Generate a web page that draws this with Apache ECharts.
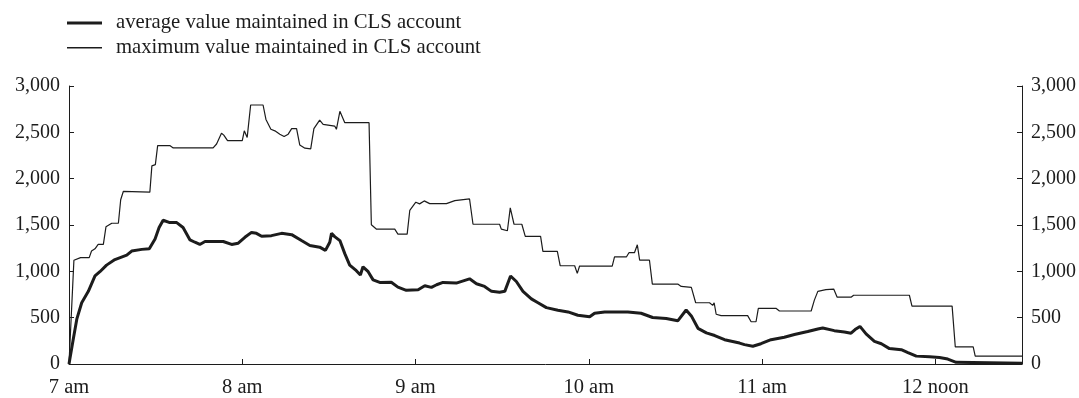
<!DOCTYPE html>
<html>
<head>
<meta charset="utf-8">
<script src="https://cdn.jsdelivr.net/npm/echarts@6/dist/echarts.min.js"></script>
<style>
  html, body { margin: 0; padding: 0; background: #fff; }
  #chart { width: 1079px; height: 398px; }
</style>
</head>
<body>
<div id="chart"></div>
<script>
// Minutes after 7:00 am, value (millions)
var averageValue = [
  [0, 0], [1.5, 272], [2.7, 484], [4.4, 661], [6.7, 784], [9.0, 950], [10.7, 996],
  [13.0, 1067], [15.9, 1127], [20.0, 1174], [21.7, 1219], [25.2, 1237], [27.8, 1243],
  [29.8, 1350], [31.2, 1473], [32.6, 1551], [34.9, 1526], [37.3, 1526], [39.5, 1473],
  [41.9, 1339], [43.6, 1314], [45.3, 1290], [47.1, 1322], [53.4, 1322], [56.3, 1290],
  [58.6, 1304], [60.9, 1367], [63.2, 1420], [64.9, 1410], [66.7, 1378], [70.1, 1385],
  [73.6, 1410], [77.1, 1396], [80.5, 1332], [83.4, 1279], [86.8, 1261], [88.8, 1226],
  [90.3, 1314], [90.9, 1410], [92.0, 1375], [93.8, 1332], [95.5, 1191], [97.2, 1067],
  [99.5, 1007], [100.9, 961], [101.8, 1049], [103.6, 996], [105.3, 908], [107.6, 880],
  [111.6, 883], [113.9, 830], [116.8, 795], [120.9, 802], [123.2, 845], [125.5, 827],
  [127.3, 855], [129.5, 880], [134.1, 873], [138.7, 919], [141.1, 866], [143.9, 837],
  [146.3, 784], [149.1, 774], [150.9, 784], [152.9, 950], [154.9, 890], [157.2, 784],
  [160.1, 703], [162.4, 661], [165.3, 608], [169.3, 580], [172.8, 562], [176.2, 526],
  [180.3, 509], [182.0, 548], [185.5, 560], [188.3, 562], [193.5, 562], [198.1, 548],
  [202.1, 502], [206.8, 491], [210.8, 466], [213.7, 583], [215.5, 519], [217.8, 385],
  [220.7, 336], [223.6, 307], [227.0, 262], [232.2, 226], [233.9, 209], [236.8, 191],
  [239.6, 219], [243.1, 262], [247.7, 289], [251.2, 318], [255.8, 350], [259.3, 378],
  [261.0, 389], [265.0, 360], [268.5, 346], [270.8, 332], [272.2, 371], [273.9, 406],
  [276.0, 325], [278.9, 244], [281.3, 219], [284.1, 166], [288.2, 155], [290.5, 124],
  [293.4, 85], [298.0, 78], [301.4, 71], [304.3, 53], [307.2, 18], [330, 7]
];

var maximumValue = [
  [0, 0], [1.7, 1120], [4.0, 1148], [7.0, 1148], [7.8, 1219], [9.0, 1243], [10.1, 1290],
  [11.9, 1290], [12.8, 1480], [14.8, 1519], [17.1, 1519], [17.9, 1773], [18.8, 1862],
  [28.0, 1855], [28.7, 2138], [29.9, 2152], [30.7, 2357], [34.9, 2357], [36.1, 2332],
  [49.9, 2332], [51.1, 2374], [52.8, 2491], [53.6, 2470], [54.9, 2410], [60.0, 2410],
  [60.7, 2516], [61.7, 2445], [62.9, 2795], [67.2, 2795], [68.2, 2639], [69.9, 2533],
  [71.3, 2516], [73.0, 2480], [74.5, 2456], [75.9, 2480], [77.1, 2540], [78.8, 2540],
  [79.9, 2364], [81.7, 2329], [83.7, 2321], [84.8, 2540], [86.8, 2632], [88.0, 2586],
  [92.0, 2568], [92.6, 2533], [93.8, 2727], [95.5, 2604], [103.9, 2604], [104.7, 1502],
  [106.5, 1455], [112.8, 1455], [113.9, 1402], [117.1, 1402], [118.0, 1657], [120.1, 1746],
  [121.4, 1728], [123.0, 1760], [124.9, 1731], [130.7, 1731], [133.6, 1763], [138.7, 1781],
  [139.9, 1508], [149.1, 1508], [149.7, 1455], [151.8, 1438], [152.8, 1685], [154.1, 1508],
  [156.8, 1508], [158.0, 1378], [163.3, 1378], [164.1, 1216], [169.1, 1216], [170.1, 1060],
  [175.1, 1060], [176.0, 978], [176.8, 1057], [188.1, 1057], [188.9, 1155], [193.0, 1155],
  [193.9, 1201], [195.8, 1201], [196.8, 1286], [197.6, 1120], [201.0, 1120], [202.0, 862],
  [210.8, 862], [212.0, 837], [215.5, 827], [217.0, 661], [221.8, 661], [222.9, 633],
  [223.4, 661], [224.1, 537], [225.8, 522], [235.0, 522], [236.2, 456], [237.9, 456],
  [238.7, 601], [244.8, 601], [246.0, 572], [257.0, 572], [258.1, 689], [259.3, 784],
  [262.1, 802], [264.8, 809], [266.0, 721], [270.8, 721], [271.7, 742], [291.0, 742],
  [291.9, 625], [305.8, 625], [306.9, 184], [313.1, 184], [313.8, 85], [330, 85]
];

var seriesNames = ['average value maintained in CLS account', 'maximum value maintained in CLS account'];
var hourLabels = ['7 am', '8 am', '9 am', '10 am', '11 am', '12 noon'];
var yTicks = [0, 500, 1000, 1500, 2000, 2500, 3000];

var FONT = '"Liberation Serif", "Times New Roman", serif';
var INK = '#1c1c1c';

var chart = echarts.init(document.getElementById('chart'), null, { renderer: 'canvas' });

function yAxisDef(pos) {
  return {
    type: 'value',
    position: pos,
    min: yTicks[0],
    max: yTicks[yTicks.length - 1],
    interval: yTicks[1] - yTicks[0],
    axisLine: { show: true, lineStyle: { color: INK, width: 1 } },
    axisTick: { show: true, inside: true, length: 5, lineStyle: { color: INK, width: 1 } },
    splitLine: { show: false },
    axisLabel: {
      color: INK, fontFamily: FONT, fontSize: 20, margin: 9,
      formatter: function (v) { return v.toLocaleString('en-US'); }
    }
  };
}

// One legend block per series so each key line gets its own thickness
function legendDef(name, top, thickness) {
  return {
    orient: 'vertical',
    left: 67,
    top: top,
    padding: 0,
    itemWidth: 35,
    itemHeight: thickness,
    icon: 'rect',
    data: [name],
    itemStyle: { color: INK, borderWidth: 0 },
    textStyle: { color: INK, fontFamily: FONT, fontSize: 20.7, padding: [0, 0, 0, 9] }
  };
}

chart.setOption({
  animation: false,
  backgroundColor: '#fff',
  textStyle: { fontFamily: FONT },
  legend: [legendDef(seriesNames[0], 12.5, 3), legendDef(seriesNames[1], 37.3, 1.4)],
  grid: { left: 69, right: 57, top: 86, bottom: 29, containLabel: false },
  xAxis: {
    type: 'value',
    min: 0,
    max: 330,
    interval: 60,
    axisLine: { show: true, onZero: false, lineStyle: { color: INK, width: 1 } },
    axisTick: { show: true, inside: true, length: 5, lineStyle: { color: INK, width: 1 } },
    splitLine: { show: false },
    axisLabel: {
      color: INK, fontFamily: FONT, fontSize: 20.5, margin: 13,
      formatter: function (v) {
        var i = Math.round(v / 60);
        return (v % 60 === 0 && hourLabels[i]) ? hourLabels[i] : '';
      }
    }
  },
  yAxis: [yAxisDef('left'), yAxisDef('right')],
  series: [
    {
      name: seriesNames[0],
      type: 'line',
      yAxisIndex: 0,
      data: averageValue,
      showSymbol: false,
      symbol: 'none',
      lineStyle: { color: INK, width: 3 },
      itemStyle: { color: INK },
      z: 3
    },
    {
      name: seriesNames[1],
      type: 'line',
      yAxisIndex: 0,
      data: maximumValue,
      showSymbol: false,
      symbol: 'none',
      lineStyle: { color: INK, width: 1.2 },
      itemStyle: { color: INK },
      z: 2
    }
  ]
});
</script>
</body>
</html>
